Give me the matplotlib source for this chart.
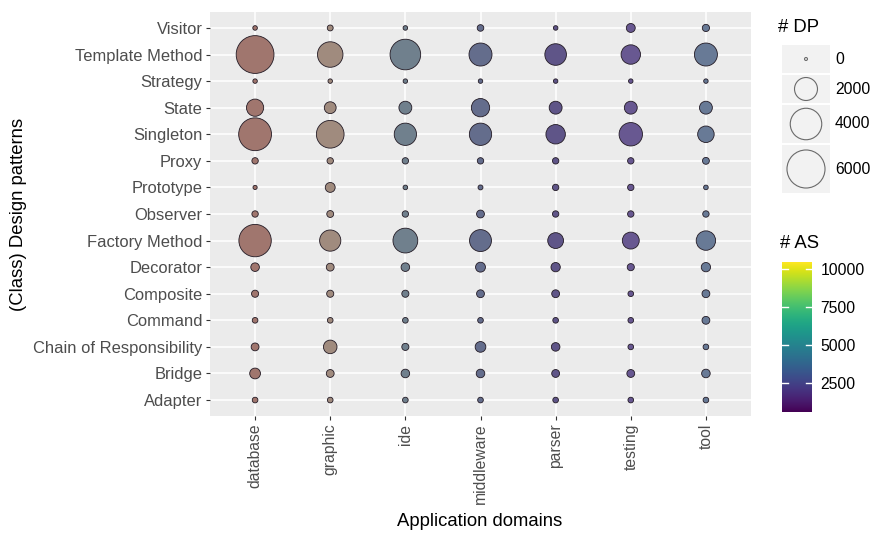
import numpy as np
import matplotlib
matplotlib.use("Agg")
import matplotlib.pyplot as plt
from matplotlib.patches import Rectangle
from matplotlib.colors import Normalize

plt.rcParams['font.family'] = ['Liberation Sans', 'DejaVu Sans']

# ---------------- data ----------------
domains = ['database', 'graphic', 'ide', 'middleware', 'parser', 'testing', 'tool']
patterns = ['Adapter', 'Bridge', 'Chain of Responsibility', 'Command', 'Composite',
            'Decorator', 'Factory Method', 'Observer', 'Prototype', 'Proxy',
            'Singleton', 'State', 'Strategy', 'Template Method', 'Visitor']

dp_database   = [50, 330, 140, 50, 105, 180, 4250, 75, 15, 75, 4370, 1035, 20, 5920, 22]
dp_graphic    = [50, 140, 590, 50, 105, 140, 1670, 95, 265, 75, 3025, 420, 20, 2520, 58]
dp_ide        = [50, 180, 105, 50, 105, 180, 2370, 75, 23, 75, 1870, 520, 20, 3760, 22]
dp_middleware = [50, 180, 325, 50, 140, 265, 1800, 140, 30, 75, 1870, 1195, 20, 2005, 83]
dp_parser     = [50, 140, 180, 50, 140, 225, 850, 75, 75, 75, 1370, 520, 20, 1740, 22]
dp_testing    = [50, 140, 50, 50, 50, 105, 995, 75, 75, 75, 2085, 520, 20, 1370, 200]
dp_tool       = [50, 180, 50, 140, 140, 225, 1370, 75, 23, 95, 940, 520, 20, 2005, 110]

dp_legend_values = [0, 2000, 4000, 6000]
as_min, as_max = 592, 10460
as_ticks = [2500, 5000, 7500, 10000]

# ---------------- style ----------------
domain_colors = ['#a0766e', '#a08b7e', '#70808d', '#646d8c', '#5f5588', '#685891', '#687a96']

W, H, DPI = 877, 534, 100
fig = plt.figure(figsize=(W / DPI, H / DPI), dpi=DPI)
fig.patch.set_facecolor('white')


def px_axes(x0, y0, x1, y1):
    return fig.add_axes([x0 / W, 1 - y1 / H, (x1 - x0) / W, (y1 - y0) / H])


def marker_area(v):
    d_px = 2.4 + 0.46 * np.sqrt(np.asarray(v, dtype=float))
    return (d_px * 72.0 / DPI) ** 2


ax = px_axes(210, 12, 751, 416)
ax.set_facecolor('#EBEBEB')
for s in ax.spines.values():
    s.set_visible(False)

series = [dp_database, dp_graphic, dp_ide, dp_middleware, dp_parser, dp_testing, dp_tool]
ypos = np.arange(len(patterns))
for i, vals in enumerate(series):
    ax.scatter(np.full(len(patterns), i), ypos, s=marker_area(vals),
               facecolor=domain_colors[i], edgecolor='#221a24', linewidth=0.6,
               zorder=3)

ax.set_xlim(-0.6, len(domains) - 0.4)
ax.set_ylim(-0.6, len(patterns) - 0.4)
ax.set_xticks(range(len(domains)))
ax.set_xticklabels(domains, rotation=90, va='top', ha='center')
ax.set_yticks(ypos)
ax.set_yticklabels(patterns)
ax.grid(True, color='white', linewidth=1.1, zorder=0)
ax.set_axisbelow(True)
ax.tick_params(axis='both', colors='#333333', length=3, width=0.8,
               labelcolor='#4D4D4D', pad=2.5)
ax.tick_params(axis='y', labelsize=11.9)
ax.tick_params(axis='x', labelsize=11.3)

fig.text(480 / W, 1 - 522 / H, 'Application domains', ha='center', va='center',
         fontsize=13.3, color='black')
fig.text(19 / W, 1 - 214 / H, '(Class) Design patterns', ha='center', va='center',
         rotation=90, fontsize=13.3, color='black')

# ---------------- size legend ----------------
lax = px_axes(770, 10, 877, 200)
lax.set_xlim(770, 877)
lax.set_ylim(200, 10)
lax.axis('off')
lax.text(778, 28, '# DP', fontsize=13.3, va='center', ha='left', color='black')
boxes = [(45, 73), (75, 103), (105, 143), (145, 193)]
for (y0, y1), v in zip(boxes, dp_legend_values):
    lax.add_patch(Rectangle((782, y0), 48, y1 - y0, facecolor='#F2F2F2',
                            edgecolor='none'))
    lax.scatter([806], [(y0 + y1) / 2], s=marker_area(v) + (1.5 if v == 0 else 0),
                facecolor='none', edgecolor='#6a6a6a', linewidth=0.8, zorder=3)
    lax.text(835, (y0 + y1) / 2, str(v), fontsize=11.3, va='center', ha='left',
             color='black')

# ---------------- colour bar ----------------
fig.text(780 / W, 1 - 243 / H, '# AS', fontsize=13.3, va='center', ha='left',
         color='black')
cax = px_axes(782, 262, 812, 412)
norm = Normalize(vmin=as_min, vmax=as_max)
grad = np.linspace(as_min, as_max, 256).reshape(-1, 1)
cax.imshow(grad, aspect='auto', cmap='viridis', norm=norm, origin='lower',
           extent=(0, 1, as_min, as_max))
cax.set_xlim(0, 1)
cax.set_ylim(as_min, as_max)
cax.set_xticks([])
cax.yaxis.tick_right()
cax.set_yticks(as_ticks)
cax.set_yticklabels([str(t) for t in as_ticks])
cax.tick_params(axis='y', length=0, labelsize=11.3, labelcolor='black', pad=6)
for s in cax.spines.values():
    s.set_visible(False)
for t in as_ticks:
    cax.plot([0, 0.2], [t, t], color='white', linewidth=1.0)
    cax.plot([0.8, 1.0], [t, t], color='white', linewidth=1.0)

fig.savefig('out.png', dpi=DPI, facecolor='white')
